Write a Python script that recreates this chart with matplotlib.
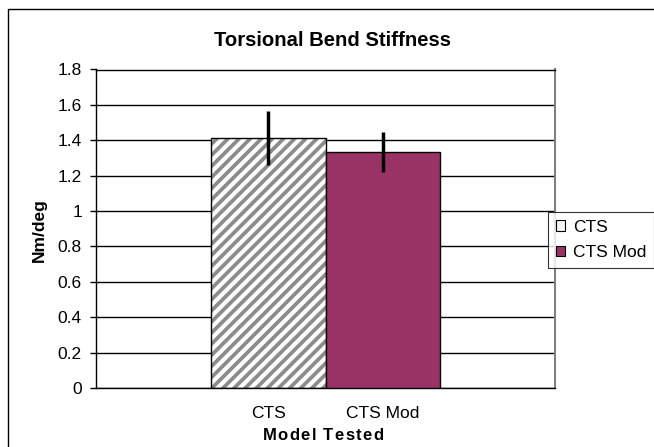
import matplotlib
matplotlib.use("Agg")
import matplotlib.pyplot as plt
from matplotlib.patches import Patch
from matplotlib.lines import Line2D

plt.rcParams['font.family'] = ['Liberation Sans', 'DejaVu Sans']
plt.rcParams['hatch.linewidth'] = 2.7

categories = ["CTS", "CTS Mod"]
values = [1.412, 1.333]
errors = [0.152, 0.113]
yticks = [0, 0.2, 0.4, 0.6, 0.8, 1, 1.2, 1.4, 1.6, 1.8]
ytick_labels = ["0", "0.2", "0.4", "0.6", "0.8", "1", "1.2", "1.4", "1.6", "1.8"]
title = "Torsional Bend Stiffness"
ylabel = "Nm/deg"
xlabel = "Model Tested"

W, H = 654, 447
fig = plt.figure(figsize=(W / 100, H / 100), dpi=100)
ax = fig.add_axes([96 / W, 1 - 388 / H, (555 - 96) / W, (388 - 69.5) / H])

x = [0, 1]
# CTS hatched bar
ax.bar(x[0], values[0], width=1, color='white', edgecolor='#8c8c8c', hatch='///', linewidth=0, zorder=2)
ax.bar(x[0], values[0], width=1, fill=False, edgecolor='black', linewidth=1, zorder=3)
# CTS Mod
ax.bar(x[1], values[1], width=1, color='#993366', edgecolor='black', linewidth=1, zorder=3)
ax.errorbar(x, values, yerr=errors, fmt='none', ecolor='black', elinewidth=2.5, capsize=0, zorder=4)

ax.set_xlim(-1.5, 2.5)
ax.set_ylim(0, 1.8)
ax.set_yticks(yticks)
ax.set_yticklabels(ytick_labels, fontsize=12.5)
ax.set_xticks(x)
ax.set_xticklabels(categories, fontsize=12.5)
ax.tick_params(axis='x', length=0, pad=13)
ax.tick_params(axis='y', length=4.3, width=1, direction='out', pad=5.8)
ax.yaxis.grid(True, color='black', linewidth=1, zorder=0)
ax.set_axisbelow(True)
for s in ['left', 'bottom', 'top']:
    ax.spines[s].set_color('black')
    ax.spines[s].set_linewidth(1)
ax.spines['right'].set_color('#808080')
ax.spines['right'].set_linewidth(1.5)

fig.text(333 / W, 1 - 40 / H, title, ha='center', va='center',
         fontsize=14.6, fontweight='bold')
fig.text(39 / W, 1 - 230 / H, ylabel, ha='center', va='center', rotation=90,
         fontsize=12.5, fontweight='bold')

# x label with letter spacing
renderer = fig.canvas.get_renderer()
widths = []
for ch in xlabel:
    t = fig.text(0, 0, ch if ch != ' ' else 'l', fontsize=12, fontweight='bold')
    bb = t.get_window_extent(renderer)
    t.remove()
    widths.append(bb.width)
spacing = 1.4
total = sum(widths) + spacing * (len(widths) - 1)
cx = 323
xpos = cx - total / 2
for ch, w in zip(xlabel, widths):
    if ch != ' ':
        fig.text(xpos / W, 1 - 435 / H, ch, ha='left', va='center', fontsize=12, fontweight='bold')
    xpos += w + spacing

handles = [Patch(facecolor='#f4f4f4', edgecolor='black', linewidth=0.8),
           Patch(facecolor='#993366', edgecolor='black', linewidth=0.8)]
leg = fig.legend(handles, categories, loc='upper left', bbox_to_anchor=(548 / W, 1 - 212 / H),
                 fontsize=12.5, frameon=True, fancybox=False, edgecolor='black',
                 handlelength=0.55, handleheight=0.55, handletextpad=0.45, borderpad=0.45,
                 labelspacing=0.6, borderaxespad=0)
leg.get_frame().set_linewidth(0.8)

# outer chart frame
fig.add_artist(Line2D([8 / W, 8 / W, 1], [0, 1 - 9 / H, 1 - 9 / H], color='black', linewidth=1,
                      transform=fig.transFigure))

fig.savefig("out.png", dpi=100)
